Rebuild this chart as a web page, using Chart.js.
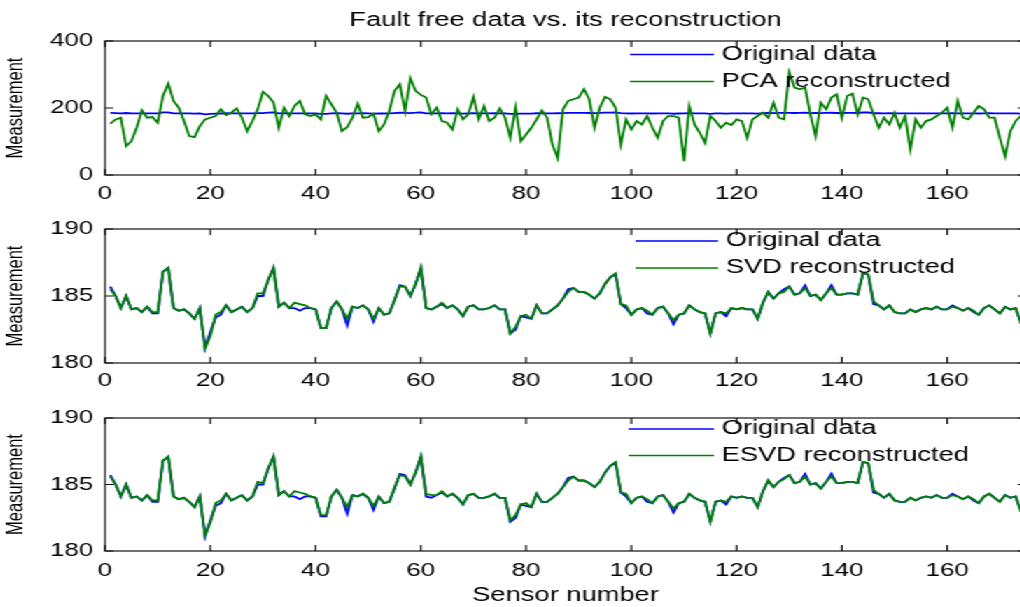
<!DOCTYPE html>
<html>
<head>
<meta charset="utf-8">
<script src="https://cdn.jsdelivr.net/npm/chart.js@4.4.1/dist/chart.umd.min.js"></script>
<style>
  html, body { margin: 0; padding: 0; background: #fff; overflow: hidden; }
  body { width: 1020px; height: 607px; position: relative; }
  /* the reference is horizontally stretched, so draw narrow and stretch */
  #wrap { position: absolute; left: 0; top: 0; width: 736px; height: 607px;
          transform: scaleX(1.4); transform-origin: 0 0; }
  #wrap canvas { position: absolute; left: 0; }
</style>
</head>
<body>
<div id="wrap">
  <canvas id="pcaChart" width="736" height="200" style="top:0px"></canvas>
  <canvas id="svdChart" width="736" height="190" style="top:200px"></canvas>
  <canvas id="esvdChart" width="736" height="217" style="top:390px"></canvas>
</div>
<script>
// Valeurs (capteurs 1..175)
const originalData = [
  185.7, 185.0, 184.1, 185.0, 184.0, 184.1, 183.8, 184.2, 183.7, 183.7,
  186.8, 187.1, 184.1, 183.9, 184.0, 183.7, 183.3, 184.1, 181.1, 182.3,
  183.4, 183.6, 184.3, 183.8, 184.0, 184.2, 183.8, 184.1, 185.0, 185.0,
  186.2, 187.1, 184.2, 184.5, 184.1, 184.1, 183.9, 184.1, 184.1, 184.0,
  182.6, 182.6, 184.1, 184.6, 184.0, 182.8, 184.2, 184.1, 184.3, 184.0,
  183.1, 184.1, 183.6, 183.7, 184.7, 185.8, 185.7, 185.0, 185.9, 187.1,
  184.1, 184.0, 184.2, 184.4, 184.1, 184.3, 184.0, 183.5, 184.2, 184.3,
  184.0, 184.0, 184.1, 184.3, 184.0, 184.0, 182.2, 182.5, 183.5, 183.4,
  183.3, 184.3, 183.7, 183.7, 184.0, 184.3, 184.8, 185.5, 185.6, 185.3,
  185.3, 185.1, 184.8, 185.2, 185.9, 186.4, 186.6, 184.4, 184.1, 183.6,
  184.0, 184.1, 183.7, 183.6, 184.1, 184.2, 183.7, 182.9, 183.6, 183.7,
  184.3, 184.0, 183.8, 183.7, 182.2, 183.7, 183.8, 183.5, 184.1, 184.0,
  184.1, 184.0, 184.0, 183.3, 184.5, 185.3, 184.8, 185.2, 185.5, 185.7,
  185.1, 185.2, 185.8, 185.0, 185.1, 184.7, 185.2, 185.8, 185.1, 185.1,
  185.2, 185.2, 185.1, 186.7, 186.6, 184.4, 184.3, 184.0, 184.3, 183.8,
  183.7, 183.7, 184.0, 183.8, 184.0, 184.1, 184.0, 184.2, 184.0, 184.0,
  184.3, 184.1, 183.9, 184.1, 183.8, 183.6, 184.1, 184.3, 184.0, 183.7,
  184.2, 184.0, 184.1, 183.0, 182.7
];

const pcaData = [
  153, 166, 171, 86, 101, 141, 193, 171, 173, 156,
  236, 273, 221, 201, 161, 116, 113, 146, 166, 171,
  176, 196, 179, 186, 199, 171, 131, 161, 196, 248,
  236, 216, 141, 201, 176, 206, 221, 181, 176, 181,
  166, 236, 211, 186, 131, 143, 171, 213, 171, 173,
  183, 131, 151, 191, 251, 271, 191, 289, 251, 239,
  231, 181, 201, 161, 156, 136, 196, 166, 181, 233,
  166, 206, 161, 171, 199, 171, 111, 201, 101, 121,
  141, 166, 193, 171, 91, 51, 196, 221, 226, 231,
  256, 226, 141, 201, 233, 226, 201, 91, 166, 136,
  161, 151, 176, 141, 111, 161, 176, 176, 171, 41,
  206, 151, 126, 96, 176, 161, 141, 156, 149, 166,
  161, 111, 166, 176, 186, 171, 216, 171, 166, 306,
  261, 256, 261, 181, 116, 216, 196, 231, 241, 171,
  236, 243, 181, 231, 226, 181, 141, 171, 151, 186,
  141, 176, 76, 166, 141, 161, 166, 176, 186, 201,
  141, 221, 171, 166, 186, 206, 196, 171, 171, 111,
  56, 131, 161, 176, 180
];

const svdData = [
  185.5, 185.0, 184.1, 185.0, 184.0, 184.1, 183.8, 184.2, 183.8, 183.8,
  186.8, 187.1, 184.1, 183.9, 184.0, 183.7, 183.3, 184.1, 181.1, 182.0,
  183.6, 183.8, 184.3, 183.8, 184.0, 184.2, 183.8, 184.1, 185.2, 185.2,
  186.2, 187.1, 184.2, 184.5, 184.1, 184.5, 184.4, 184.3, 184.1, 184.0,
  182.6, 182.6, 184.1, 184.6, 184.0, 183.3, 184.2, 184.1, 184.3, 184.0,
  183.3, 184.1, 183.6, 183.7, 184.7, 185.7, 185.7, 185.0, 185.9, 187.1,
  184.1, 184.0, 184.2, 184.5, 184.1, 184.3, 184.0, 183.5, 184.2, 184.3,
  184.0, 184.0, 184.1, 184.3, 184.0, 184.0, 182.2, 182.7, 183.5, 183.6,
  183.3, 184.3, 183.7, 183.7, 184.0, 184.3, 184.8, 185.3, 185.6, 185.3,
  185.3, 185.1, 184.8, 185.2, 185.9, 186.4, 186.7, 184.4, 184.3, 183.6,
  184.0, 184.1, 183.9, 183.6, 184.1, 184.2, 183.7, 183.2, 183.6, 183.7,
  184.3, 184.0, 183.8, 183.7, 182.2, 183.7, 183.8, 183.7, 184.1, 184.0,
  184.1, 184.0, 184.0, 183.3, 184.5, 185.3, 184.8, 185.2, 185.3, 185.7,
  185.1, 185.2, 185.6, 185.0, 185.1, 184.7, 185.2, 185.6, 185.1, 185.1,
  185.2, 185.2, 185.1, 186.7, 186.6, 184.6, 184.3, 184.0, 184.3, 183.8,
  183.7, 183.7, 184.0, 183.8, 184.0, 184.1, 184.0, 184.2, 184.0, 184.0,
  184.2, 184.1, 183.9, 184.1, 183.9, 183.6, 184.1, 184.3, 184.0, 183.7,
  184.2, 184.0, 184.1, 183.0, 182.7
];

const esvdData = [
  185.6, 185.0, 184.1, 185.0, 184.0, 184.1, 183.8, 184.2, 183.8, 183.8,
  186.8, 187.1, 184.1, 183.9, 184.0, 183.7, 183.3, 184.1, 181.2, 182.1,
  183.6, 183.8, 184.3, 183.8, 184.0, 184.2, 183.8, 184.1, 185.2, 185.1,
  186.2, 187.1, 184.2, 184.5, 184.1, 184.5, 184.4, 184.3, 184.1, 184.0,
  182.7, 182.7, 184.1, 184.6, 184.0, 183.3, 184.2, 184.1, 184.3, 184.0,
  183.4, 184.1, 183.6, 183.7, 184.8, 185.7, 185.6, 185.0, 185.9, 187.1,
  184.3, 184.2, 184.2, 184.5, 184.1, 184.3, 184.0, 183.5, 184.2, 184.3,
  184.0, 184.0, 184.1, 184.3, 184.0, 184.0, 182.3, 182.7, 183.5, 183.6,
  183.3, 184.3, 183.7, 183.7, 184.0, 184.3, 184.8, 185.3, 185.6, 185.3,
  185.3, 185.1, 184.8, 185.2, 185.9, 186.4, 186.7, 184.4, 184.3, 183.6,
  184.0, 184.1, 183.9, 183.6, 184.1, 184.2, 183.7, 183.2, 183.6, 183.7,
  184.3, 184.0, 183.8, 183.7, 182.2, 183.7, 183.8, 183.7, 184.1, 184.0,
  184.1, 184.0, 184.0, 183.3, 184.5, 185.3, 184.8, 185.2, 185.4, 185.7,
  185.1, 185.2, 185.6, 185.0, 185.1, 184.7, 185.2, 185.6, 185.1, 185.1,
  185.2, 185.2, 185.1, 186.7, 186.6, 184.6, 184.3, 184.0, 184.3, 183.8,
  183.7, 183.7, 184.0, 183.8, 184.0, 184.1, 184.0, 184.2, 184.0, 184.0,
  184.2, 184.1, 183.9, 184.1, 183.9, 183.6, 184.1, 184.3, 184.0, 183.7,
  184.2, 184.0, 184.1, 183.0, 182.8
];

const xTickValues = [0, 20, 40, 60, 80, 100, 120, 140, 160];
const pcaYTicks = [0, 200, 400];
const svdYTicks = [180, 185, 190];

const sensorNumbers = originalData.map((v, i) => i + 1);

Chart.defaults.font.family = "'Liberation Sans', Arial, sans-serif";
Chart.defaults.color = '#000';

// cadre façon MATLAB avec graduations vers l'intérieur
const boxPlugin = {
  id: 'boxPlugin',
  afterDatasetsDraw(chart) {
    const { ctx, chartArea: a, scales: { x, y } } = chart;
    const tick = 6;
    ctx.save();
    ctx.strokeStyle = '#111';
    ctx.lineWidth = 1.2;
    ctx.strokeRect(a.left, a.top, a.width, a.height);
    ctx.beginPath();
    x.ticks.forEach(t => {
      const px = x.getPixelForValue(t.value);
      ctx.moveTo(px, a.bottom); ctx.lineTo(px, a.bottom - tick);
      ctx.moveTo(px, a.top); ctx.lineTo(px, a.top + tick);
    });
    y.ticks.forEach(t => {
      const py = y.getPixelForValue(t.value);
      ctx.moveTo(a.left, py); ctx.lineTo(a.left + tick, py);
      ctx.moveTo(a.right, py); ctx.lineTo(a.right - tick, py);
    });
    ctx.stroke();
    ctx.restore();
  }
};

// légende sans cadre dans le coin haut droit
const inlineLegend = {
  id: 'inlineLegend',
  afterDraw(chart, args, opts) {
    const { ctx, chartArea: a } = chart;
    ctx.save();
    chart.data.datasets.forEach((ds, i) => {
      const yy = a.top + opts.top + i * opts.rowGap;
      const x0 = a.left + opts.left;
      ctx.strokeStyle = ds.borderColor;
      ctx.lineWidth = 1.5;
      ctx.beginPath();
      ctx.moveTo(x0, yy);
      ctx.lineTo(x0 + opts.lineLen, yy);
      ctx.stroke();
      ctx.fillStyle = '#000';
      ctx.font = "19.5px 'Liberation Sans', Arial, sans-serif";
      ctx.textBaseline = 'middle';
      ctx.textAlign = 'left';
      ctx.fillText(ds.label, x0 + opts.lineLen + 5.5, yy);
    });
    ctx.restore();
  }
};

function makePanel(id, recon, reconLabel, yMin, yMax, yTicks, panel) {
  return new Chart(document.getElementById(id), {
    type: 'line',
    data: {
      labels: sensorNumbers,
      datasets: [{
        label: 'Original data',
        data: originalData,
        borderColor: '#0000ff',
        borderWidth: 1.8,
        order: 1
      }, {
        label: reconLabel,
        data: recon,
        borderColor: '#008000',
        borderWidth: 1.8,
        order: 0
      }]
    },
    options: {
      responsive: false,
      animation: false,
      devicePixelRatio: 1,
      elements: { point: { radius: 0 }, line: { tension: 0 } },
      layout: { padding: { top: panel.padTop, right: 3, left: 0, bottom: 0 } },
      plugins: {
        legend: { display: false },
        tooltip: { enabled: false },
        title: {
          display: !!panel.title,
          text: panel.title || '',
          fullSize: false,
          font: { size: 19.5, weight: 'normal' },
          color: '#000',
          padding: { top: 9, bottom: 8.6 }
        },
        inlineLegend: panel.legend
      },
      scales: {
        x: {
          type: 'linear',
          min: 0,
          max: 175,
          grid: { display: false, drawTicks: false },
          border: { display: false },
          afterBuildTicks: s => { s.ticks = xTickValues.map(v => ({ value: v })); },
          afterFit: s => { s.height = panel.xHeight; },
          ticks: { font: { size: 18.5 }, padding: panel.xPad, maxRotation: 0, autoSkip: false },
          title: {
            display: !!panel.xTitle,
            text: panel.xTitle || '',
            font: { size: 19.5 },
            padding: { top: 0, bottom: 0 }
          }
        },
        y: {
          min: yMin,
          max: yMax,
          grid: { display: false, drawTicks: false },
          border: { display: false },
          afterBuildTicks: s => { s.ticks = yTicks.map(v => ({ value: v })); },
          afterFit: s => { s.width = 75; },
          ticks: { font: { size: 18.5 }, padding: 8.5 },
          title: {
            display: true,
            text: 'Measurement',
            font: { size: 16.5 },
            padding: { top: 2, bottom: 0 }
          }
        }
      }
    },
    plugins: [boxPlugin, inlineLegend]
  });
}

makePanel('pcaChart', pcaData, 'PCA reconstructed', 0, 400, pcaYTicks, {
  title: 'Fault free data vs. its reconstruction',
  padTop: 0, xHeight: 25, xPad: 8,
  legend: { left: 375, top: 13.5, rowGap: 27, lineLen: 60 }
});
makePanel('svdChart', svdData, 'SVD reconstructed', 180, 190, svdYTicks, {
  padTop: 29, xHeight: 27, xPad: 7,
  legend: { left: 379, top: 12, rowGap: 27, lineLen: 59 }
});
makePanel('esvdChart', esvdData, 'ESVD reconstructed', 180, 190, svdYTicks, {
  padTop: 28, xHeight: 56, xTitle: 'Sensor number', xPad: 9,
  legend: { left: 374, top: 11, rowGap: 26.5, lineLen: 61 }
});
</script>
</body>
</html>
